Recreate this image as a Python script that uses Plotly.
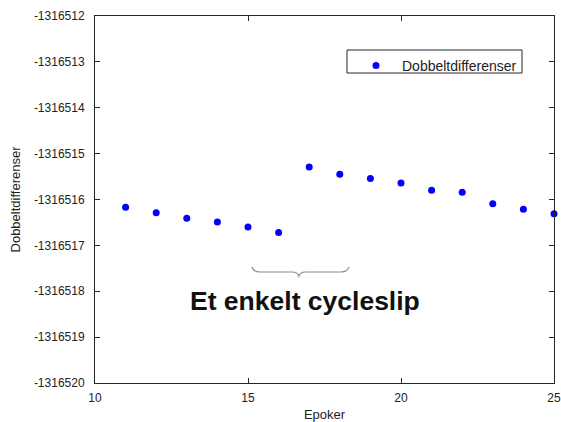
import plotly.graph_objects as go

# Double-difference observations per epoch
epoker = [11, 12, 13, 14, 15, 16, 17, 18, 19, 20, 21, 22, 23, 24, 25]
dobbeltdiff = [
    -1316516.17, -1316516.29, -1316516.41, -1316516.49, -1316516.60,
    -1316516.72, -1316515.29, -1316515.45, -1316515.54, -1316515.64,
    -1316515.80, -1316515.84, -1316516.09, -1316516.21, -1316516.31,
]

x_ticks = [10, 15, 20, 25]
y_ticks = list(range(-1316520, -1316511))
y_ticklabels = [str(v) for v in y_ticks]

AX_COLOR = "#262626"
TXT_COLOR = "#222222"
FONT = "Liberation Sans, Arial, sans-serif"

fig = go.Figure()
fig.add_trace(go.Scatter(
    x=epoker, y=dobbeltdiff, mode="markers", name="Dobbeltdifferenser",
    marker=dict(color="#0000ff", size=7),
    cliponaxis=False,
))

# Curly brace marking the jump between epoch 16 and 17
y_end, y_mid, y_tip = -1316517.47, -1316517.58, -1316517.67
brace = (
    f"M 15.13 {y_end} Q 15.17 {y_mid} 15.40 {y_mid} "
    f"L 16.45 {y_mid} Q 16.62 {y_mid} 16.66 {y_tip} "
    f"Q 16.70 {y_mid} 16.87 {y_mid} L 18.03 {y_mid} "
    f"Q 18.26 {y_mid} 18.30 {y_end}"
)
fig.add_shape(type="path", path=brace, xref="x", yref="y",
              line=dict(color="#8c8c8c", width=1.2))

fig.add_annotation(
    x=16.85, y=-1316518.21, xref="x", yref="y",
    text="<b>Et enkelt cycleslip</b>", showarrow=False,
    font=dict(family=FONT, size=26.5, color="#111111"),
)

# Legend frame
fig.add_shape(type="rect", xref="paper", yref="paper",
              x0=(347 - 95) / 459, x1=(522 - 95) / 459,
              y0=(383 - 73) / 367, y1=(383 - 50) / 367,
              line=dict(color=AX_COLOR, width=1), fillcolor="white", layer="below")

fig.update_xaxes(
    range=[10, 25], tickvals=x_ticks, ticks="inside", ticklen=5,
    showline=True, linecolor=AX_COLOR, linewidth=1, mirror="ticks",
    tickcolor=AX_COLOR, showgrid=False, zeroline=False, automargin=False,
    ticklabelstandoff=4,
    tickfont=dict(family=FONT, size=12, color=TXT_COLOR),
    title=dict(text="Epoker", font=dict(family=FONT, size=13, color=TXT_COLOR), standoff=8),
)
fig.update_yaxes(
    range=[-1316520, -1316512], tickvals=y_ticks, ticktext=y_ticklabels,
    ticks="inside", ticklen=5,
    showline=True, linecolor=AX_COLOR, linewidth=1, mirror="ticks",
    tickcolor=AX_COLOR, showgrid=False, zeroline=False, automargin=False,
    ticklabelstandoff=7,
    tickfont=dict(family=FONT, size=12, color=TXT_COLOR),
    title=dict(text="Dobbeltdifferenser", font=dict(family=FONT, size=13, color=TXT_COLOR), standoff=10),
)

fig.update_layout(
    width=561, height=422,
    margin=dict(l=95, r=7, t=16, b=39),
    paper_bgcolor="white", plot_bgcolor="white",
    showlegend=True,
    legend=dict(
        x=(350 - 95) / 459, y=(383 - 50) / 367, xanchor="left", yanchor="top",
        bgcolor="rgba(0,0,0,0)", borderwidth=0, itemwidth=42,
        font=dict(family=FONT, size=14, color=TXT_COLOR),
    ),
)

fig.write_html("out.html")
